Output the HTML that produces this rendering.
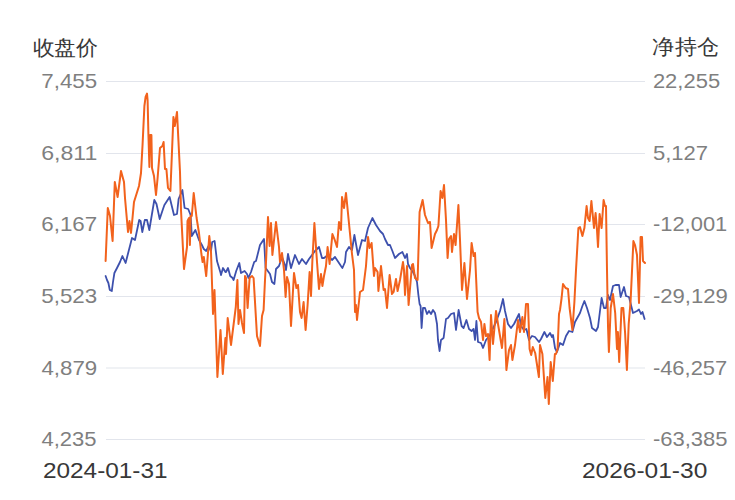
<!DOCTYPE html>
<html><head><meta charset="utf-8"><style>
html,body{margin:0;padding:0;background:#fff;}
svg{display:block;font-family:"Liberation Sans", sans-serif;}
</style></head><body>
<svg width="735" height="500" viewBox="0 0 735 500">
<rect x="106" y="81" width="539" height="1" fill="#e2e5ec"/>
<rect x="106" y="153" width="539" height="1" fill="#e2e5ec"/>
<rect x="106" y="224" width="539" height="1" fill="#e2e5ec"/>
<rect x="106" y="296" width="539" height="1" fill="#e2e5ec"/>
<rect x="106" y="367.5" width="539" height="1" fill="#e2e5ec"/>
<rect x="106" y="439" width="539" height="1" fill="#e2e5ec"/>
<polyline fill="none" stroke="#3d50ad" stroke-width="1.8" stroke-linejoin="round" stroke-linecap="round" points="105.6,276 107,280 108.4,283 109.8,290 111.8,291 113,282 114.4,273 117,268 120,262 122.4,256 125.6,263 132,238 135,240 139.2,220 140.6,221 142.3,232 144.8,220 147,220 149.3,230 154.3,200 156.5,204 159.7,219 163,209 164.4,205 169.6,197 174,215 177,214 178.6,199 182.4,190 184.6,208 188.2,209 190.6,215 191.8,236 195.4,230 199,240 201.9,245 203.8,249 206.2,251 208.6,246 211,251 212.2,242 214.6,241 217,261 220.6,273 221,275 223,268 225.4,272 226,272 228,268 230.2,276 232.6,278 233.6,280 236.2,271 239.3,263 241,273 244.6,271 247,274 248.4,278 251,272 254.2,262 256,261 260,245 264,239 265.6,268 270,274 272,282 274.4,284 276,269 279,266 282,257 285,265 286,270 288,254 291,268 295,255 299,264 302,259 306,264 309,259 315,251 319,247 322,258 324,258 328,255 332,260 335,257 341,266 342.4,268 345,262 346,252 349,247 352,250 354.4,235 358,255 362,240 365,241 368,228 372.4,218 376,225 380,231 383,234 385,239 388,245 390,245 392.4,251 395,258 399,254 402.4,252 405,258 407,254 408,264 410,268 413,272 415,276 417,282 418.4,295 419.6,304 420.6,306 421.6,328 423,308 425,308 427,314 429,311 431,314 433,310 435,313 437,324 438,340 439.6,351 441,340 443.6,338 446,319 448,318 451,314 454,313 456,330 458.6,310 461.6,326 463.6,328 466.4,320 469,329 471.6,331 473.6,329 475,340 476.4,321 478,342 481,343 483,348 486,340 490,335 496,322 500,311 503,299 505,311 508,324 511,328 514,324 519,314 521,326 524,330 526.4,329 529,340 532,336 535,337 539,342 541,339 544.4,332 547,337 550,333 552,337 553,335 555,348 557,352 560,343 563,345 566,336 569,331 572.4,332 575,322 580,313 582.4,306 584.4,301 587,308 590,318 592,328 596,331 598,327 601.6,298 604,308 606,308 608,295 610,300 613,286 615.6,285 619,285 620.6,297 624,287 626,296 629,297 633,313 637,311 639,309.5 641,314 642.5,312 644.6,319"/>
<polyline fill="none" stroke="#f2621c" stroke-width="2" stroke-linejoin="round" stroke-linecap="round" points="105.6,261 107.8,208 110,216 112.6,241 114.8,182 117.6,197 121,171 124,182 125,198 128,232 129.5,221 131,233 132.5,218 134,202 139,186 141,173 142.6,144 144.4,106 145.6,97 147,93.6 147.6,100 148.4,134 149.4,167 150.2,135 151.4,135 152,168 154,176 156,195 157.6,178 160,148 162.4,146 163.6,142 165,169 166.4,169 168,188 170.4,191 173.4,117 174.8,126 177,112 178.4,140 180,172 181,210 184,269 187,247 187.5,221 189,218 189.9,245 190.6,216 191.8,216 193.7,193 196.6,218 199,233 201.4,254 202.6,262 203.8,257 206.2,276 209.3,236 211,252 213,314 214.5,290 217.4,377 220.5,330 222.8,374 225.4,338 226,354 227.7,318 231,345 235.8,307 237.4,280 238.5,324 240,310 242,323 244,333 245,276 246,278 247.6,308 249.6,278 252,276 253.6,278 257,336 260,346 262,316 263.6,310 265,280 266,262 268,217 269.6,246 271,223 272.4,255 276,222 279,247 280,262 282,253 284,270 285.6,297 287,277 289,284 291,326 294,273 296.4,288 298,285 300,312 301.6,318 303.6,302 305.6,330 307.6,305 309.6,272 311,296 312.4,260 314.4,223 317,262 319,289 321,274 322.4,286 324,276 326,266 327.6,247 329.6,264 332.4,234 334.4,239 337,247 339,222 341,230 342,197 344,208 346,193 352,254 354,270 355,312 356,305 357,320 360,292 363,290 366,266 368,237 369.6,248 371.6,243 374,276 375,268 377.6,272 378.4,291 381,266 383.6,290 385,289 387,308 389.6,275 392,294 393.6,292 396,279 397.6,291 400,280 403,262 404,270 405,295 407,266 408.6,305 412,265 413,264 415,278 417.6,280 419.6,212 422.6,200 425,215 428,223 430,222 431.6,248 435,234 437,230 438.4,226 440.6,191 442.4,198 444,185 446,220 447.6,258 449,239 451,236 452,252 454,234 455.6,245 458.4,205 460,240 462,290 464.4,263 467,299 470,270 471.6,243 473.6,256 475,253 477.6,312 479,318 481,322 483,340 484.4,324 486,336 488,334 489.6,360 491,315 493,344 496,311 498,324 502,348 504.4,319 506.4,370 509,350 511,345 512.4,360 515,345 518,320 520,332 522.4,317 524,332 526,304 528,304 529.6,349 531.2,355 532.8,347 535.2,353 538.9,377 540,345 542.4,354 545.3,398 547.5,377 548.8,404 550.7,362 552.8,381 554.9,354 556,354 557.6,349 559,314 560,310 561.6,298 563,284 565.6,288 568,289 569.6,308 572.4,330 574.4,302 576,270 578.4,228 580,227 582.4,236 584.4,228 586.6,206 588,218 589.6,221 591.4,201 594,228 595.6,213 597,230 598,247 599.6,214 601.6,228 603.6,200 605,206 606,206 607,270 608,326 608.9,352 610.7,308 613,294 615.2,313 617,349 617.9,332 619.2,362 621.5,308 623.3,308 625.1,333 626.9,370 628.7,324 630.6,301 633.4,241 635,245 637,255 639,303 640.6,237 642,237 643,261 645,263"/>
<text transform="matrix(1.0464,0,0,1,32.95,54.90)" fill="#383838" font-size="21">收盘价</text>
<text transform="matrix(1.0532,0,0,1,652.33,54.00)" fill="#383838" font-size="21">净持仓</text>
<text transform="matrix(1.1168,0,0,1,41.33,88.40)" fill="#7f7f7f" font-size="20">7,455</text>
<text transform="matrix(1.1556,0,0,1,41.25,160.40)" fill="#7f7f7f" font-size="20">6,811</text>
<text transform="matrix(1.1172,0,0,1,41.32,231.40)" fill="#7f7f7f" font-size="20">6,167</text>
<text transform="matrix(1.1168,0,0,1,41.34,303.40)" fill="#7f7f7f" font-size="20">5,523</text>
<text transform="matrix(1.1156,0,0,1,41.41,374.90)" fill="#7f7f7f" font-size="20">4,879</text>
<text transform="matrix(1.1011,0,0,1,41.42,446.40)" fill="#7f7f7f" font-size="20">4,235</text>
<text transform="matrix(1.0995,0,0,1,652.90,88.40)" fill="#7f7f7f" font-size="20">22,255</text>
<text transform="matrix(1.1020,0,0,1,652.90,160.40)" fill="#7f7f7f" font-size="20">5,127</text>
<text transform="matrix(1.0968,0,0,1,652.90,231.40)" fill="#7f7f7f" font-size="20">-12,001</text>
<text transform="matrix(1.1061,0,0,1,652.89,303.40)" fill="#7f7f7f" font-size="20">-29,129</text>
<text transform="matrix(1.0956,0,0,1,652.90,374.90)" fill="#7f7f7f" font-size="20">-46,257</text>
<text transform="matrix(1.1018,0,0,1,652.90,446.40)" fill="#7f7f7f" font-size="20">-63,385</text>
<text transform="matrix(1.1085,0,0,1,42.89,477.50)" fill="#383838" font-size="22">2024-01-31</text>
<text transform="matrix(1.1150,0,0,1,581.89,477.50)" fill="#383838" font-size="22">2026-01-30</text>
</svg>
</body></html>
